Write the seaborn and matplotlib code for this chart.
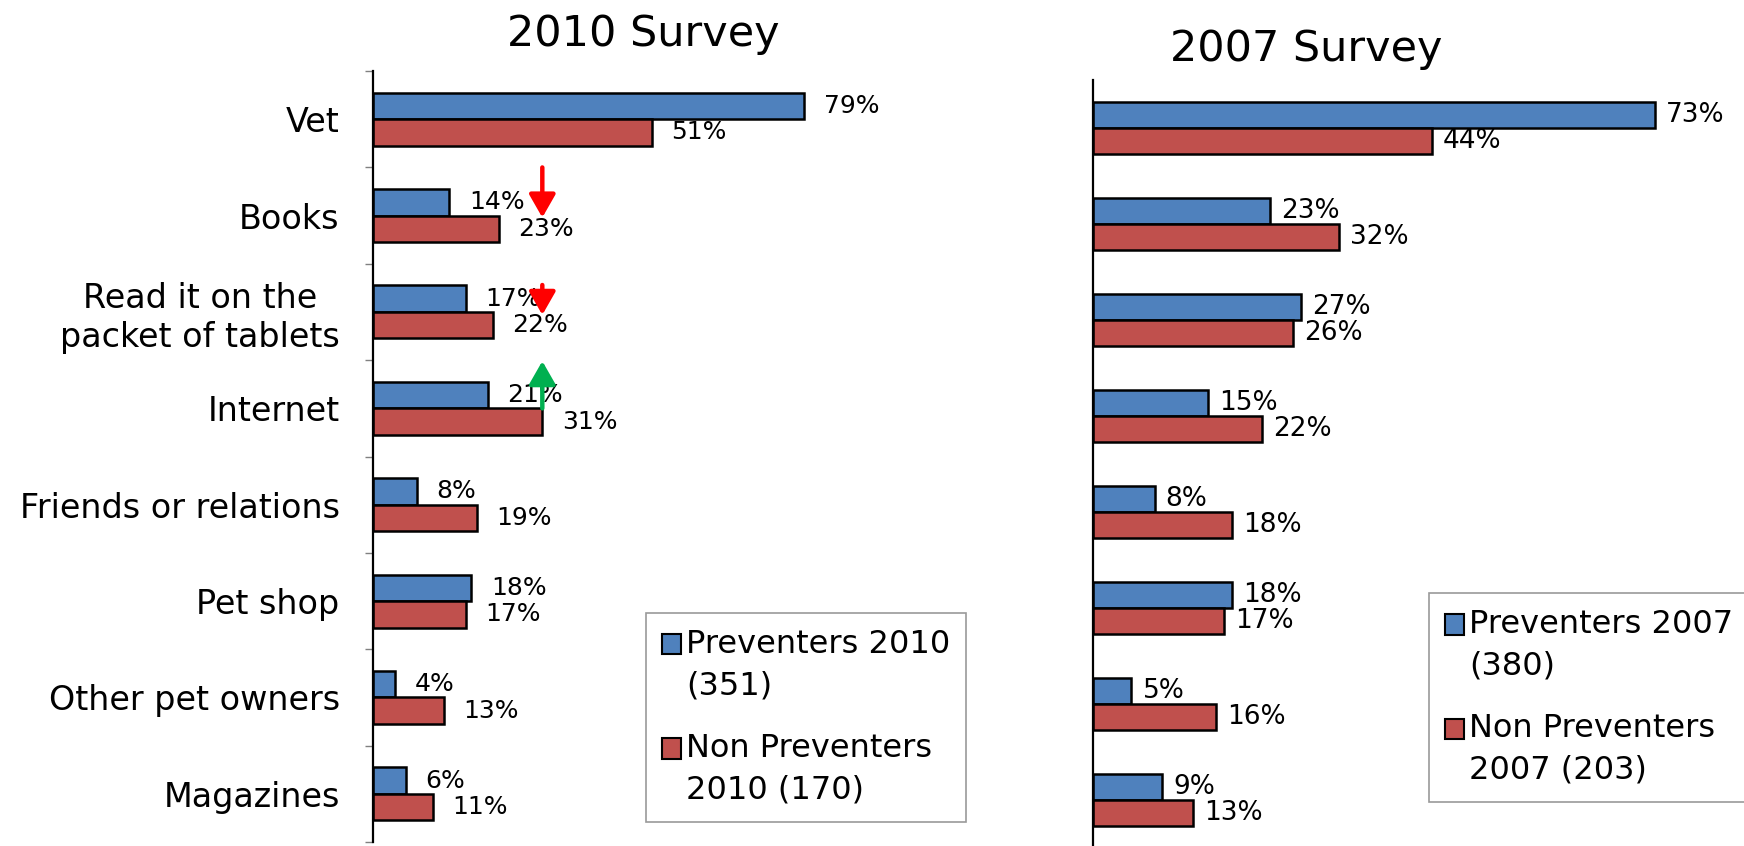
import numpy as np
import pandas as pd
import matplotlib
matplotlib.use("Agg")
import matplotlib.pyplot as plt
from matplotlib.patches import Patch, Rectangle
from matplotlib.legend_handler import HandlerPatch
import seaborn as sns

# data
categories = ["Vet", "Books", "Read it on the\npacket of tablets", "Internet",
              "Friends or relations", "Pet shop", "Other pet owners", "Magazines"]
prev_2010 = [79, 14, 17, 21, 8, 18, 4, 6]
nonprev_2010 = [51, 23, 22, 31, 19, 17, 13, 11]
prev_2007 = [73, 23, 27, 15, 8, 18, 5, 9]
nonprev_2007 = [44, 32, 26, 22, 18, 17, 16, 13]

labels_2010 = ["Preventers 2010\n(351)", "Non Preventers\n2010 (170)"]
labels_2007 = ["Preventers 2007\n(380)", "Non Preventers\n2007 (203)"]

BLUE = "#4F81BD"
RED = "#C0504D"

sns.set_style("white")
plt.rcParams["font.family"] = ["DejaVu Sans"]
plt.rcParams["text.color"] = "black"
plt.rcParams["ytick.labelcolor"] = "black"
plt.rcParams["xtick.labelcolor"] = "black"


def make_df(a, b, names):
    df = pd.DataFrame({"source": categories, names[0]: a, names[1]: b})
    return df.melt(id_vars="source", var_name="group", value_name="pct")


def draw(ax, df, names, xmax, label_size, label_pad):
    sns.barplot(data=df, x="pct", y="source", hue="group", order=categories,
                hue_order=names, orient="h", palette=[BLUE, RED], width=0.55,
                saturation=1, edgecolor="black", linewidth=1.8, legend=False, ax=ax)
    for c in ax.containers:
        ax.bar_label(c, fmt="{:.0f}%", padding=label_pad, fontsize=label_size,
                     color="black")
    ax.set_xlim(0, xmax)
    ax.set_ylim(len(categories) - 0.5, -0.5)
    ax.set_xlabel("")
    ax.set_ylabel("")
    ax.set_xticks([])
    for s in ["top", "right", "bottom"]:
        ax.spines[s].set_visible(False)
    ax.spines["left"].set_color("black")
    ax.spines["left"].set_linewidth(1.6)


# legend squares sit beside the first line of each two-line label
def top_square(legend, orig_handle, xdescent, ydescent, width, height, fontsize):
    return Rectangle((-xdescent, -ydescent + 15.5), width, height)


fig = plt.figure(figsize=(17.44, 8.46), dpi=100)

# 2010 panel
ax1 = fig.add_axes([0.2139, 0.0047, 0.3131, 0.9113])
draw(ax1, make_df(prev_2010, nonprev_2010, labels_2010), labels_2010, 100, 18, 14)
ax1.set_yticks(range(len(categories)))
ax1.set_yticklabels(categories, fontsize=24, multialignment="center")
ax1.set_yticks(np.arange(-0.5, len(categories), 1), minor=True)
ax1.tick_params(axis="y", which="major", length=0, pad=24)
ax1.tick_params(axis="y", which="minor", length=6, width=1, color="#808080",
                left=True)

# arrows marking the changes since 2007
ARROW_X = 31
arrows = [(1, -0.5, 0.02, "#FF0000"), (2, -0.28, 0.03, "#FF0000"),
          (3, 0.0, -0.49, "#00B050")]
for idx, tail, tip, col in arrows:
    ax1.annotate("", xy=(ARROW_X, idx + tip), xytext=(ARROW_X, idx + tail),
                 arrowprops=dict(arrowstyle="-|>,head_length=0.35,head_width=0.2",
                                 color=col, lw=3.2, mutation_scale=40,
                                 shrinkA=0, shrinkB=0))

# 2007 panel
ax2 = fig.add_axes([0.6267, -0.0024, 0.3532, 0.9078])
draw(ax2, make_df(prev_2007, nonprev_2007, labels_2007), labels_2007, 80, 19, 8)
ax2.set_yticks([])

fig.text(0.3687, 0.96, "2010 Survey", fontsize=31, ha="center", va="center")
fig.text(0.749, 0.942, "2007 Survey", fontsize=31, ha="center", va="center")

for names, anchor in [(labels_2010, (0.3704, 0.2754)), (labels_2007, (0.8194, 0.299))]:
    handles = [Patch(facecolor=BLUE, edgecolor="black", linewidth=1.5),
               Patch(facecolor=RED, edgecolor="black", linewidth=1.5)]
    leg = fig.legend(handles, names, loc="upper left", bbox_to_anchor=anchor,
                     fontsize=23, frameon=True, fancybox=False, borderpad=0.5,
                     handlelength=0.6, handleheight=0.6, handletextpad=0.15,
                     labelspacing=1.0, borderaxespad=0,
                     handler_map={Patch: HandlerPatch(patch_func=top_square)})
    for t in leg.get_texts():
        t.set_linespacing(1.43)
    leg.get_frame().set_edgecolor("#808080")
    leg.get_frame().set_linewidth(1.2)

fig.savefig("out.png", dpi=100)
